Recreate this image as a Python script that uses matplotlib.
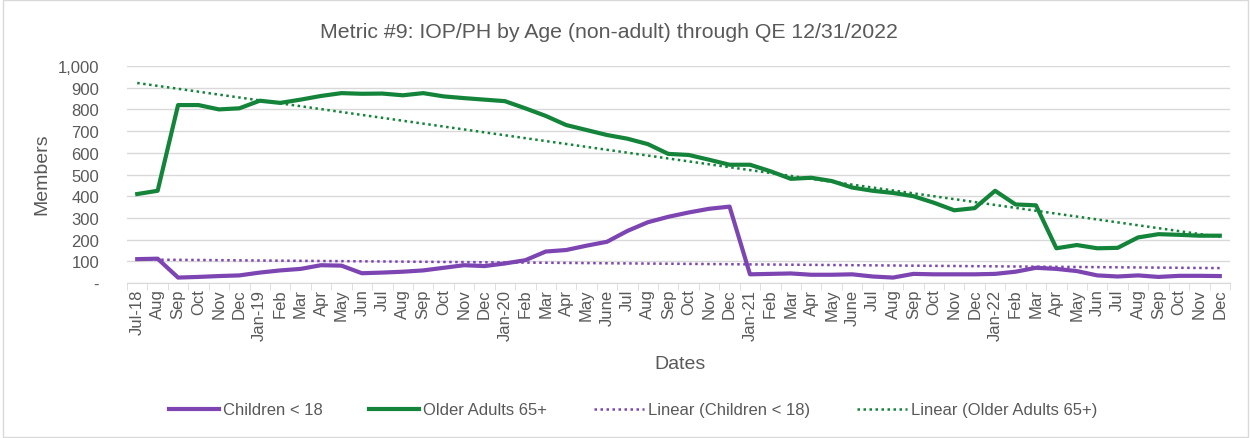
import numpy as np
import matplotlib
matplotlib.use("Agg")
import matplotlib.pyplot as plt
from matplotlib.ticker import FuncFormatter, FixedLocator

plt.rcParams['font.family'] = ['Liberation Sans', 'DejaVu Sans']

months = ["Jul-18", "Aug", "Sep", "Oct", "Nov", "Dec",
          "Jan-19", "Feb", "Mar", "Apr", "May", "Jun", "Jul", "Aug", "Sep", "Oct", "Nov", "Dec",
          "Jan-20", "Feb", "Mar", "Apr", "May", "June", "Jul", "Aug", "Sep", "Oct", "Nov", "Dec",
          "Jan-21", "Feb", "Mar", "Apr", "May", "June", "Jul", "Aug", "Sep", "Oct", "Nov", "Dec",
          "Jan-22", "Feb", "Mar", "Apr", "May", "Jun", "Jul", "Aug", "Sep", "Oct", "Nov", "Dec"]

children = [110, 112, 25, 28, 32, 35,
            48, 58, 65, 82, 80, 45, 48, 52, 58, 70, 82, 78,
            90, 105, 145, 152, 172, 190, 240, 280, 305, 325, 342, 352,
            40, 42, 44, 38, 38, 40, 30, 25, 42, 40, 40, 40,
            42, 52, 70, 65, 55, 35, 30, 35, 28, 33, 33, 32]

older = [410, 425, 820, 820, 800, 805,
         840, 830, 845, 862, 875, 872, 873, 865, 875, 860, 852, 845,
         838, 805, 770, 728, 705, 682, 665, 640, 595, 590, 568, 545,
         545, 515, 480, 485, 470, 440, 425, 415, 400, 370, 335, 345,
         425, 362, 358, 160, 175, 160, 162, 210, 225, 222, 218, 218]

purple = '#7D45B2'
green = '#14843A'
txt = '#595959'

W, H = 1251, 439
fig = plt.figure(figsize=(W / 100, H / 100), dpi=100)
ax = fig.add_axes([127 / W, 1 - 284 / H, (1230 - 127) / W, (284 - 67) / H])

x = np.arange(len(months))
l1, = ax.plot(x, children, color=purple, lw=3.0, solid_joinstyle='round', label='Children < 18', zorder=3)
l2, = ax.plot(x, older, color=green, lw=3.0, solid_joinstyle='round', label='Older Adults 65+', zorder=3)

pc = np.polyfit(x, children, 1)
po = np.polyfit(x, older, 1)
dot = (0, (1, 1.4))
l3, = ax.plot(x, np.polyval(pc, x), color=purple, lw=1.8, ls=dot, label='Linear (Children < 18)', zorder=2)
l4, = ax.plot(x, np.polyval(po, x), color=green, lw=1.8, ls=dot, label='Linear (Older Adults 65+)', zorder=2)

ax.set_xlim(-0.5, len(months) - 0.5)
ax.set_ylim(0, 1000)
ax.set_yticks(np.arange(0, 1001, 100))
ax.yaxis.set_major_formatter(FuncFormatter(lambda v, p: '-' if v == 0 else f'{int(v):,}'))
ax.grid(axis='y', color='#D9D9D9', lw=1)
ax.set_axisbelow(True)
for s in ['top', 'right', 'left']:
    ax.spines[s].set_visible(False)
ax.spines['bottom'].set_color('#D9D9D9')
ax.tick_params(axis='y', length=0, labelsize=12, labelcolor=txt, pad=20)

ax.set_xticks(x)
ax.set_xticklabels(months, rotation=90, fontsize=12, color=txt)
ax.tick_params(axis='x', length=0, pad=4)
ax.xaxis.set_minor_locator(FixedLocator(np.arange(-0.5, len(months), 1)))
ax.tick_params(axis='x', which='minor', length=5, color='#D9D9D9')

fig.text(42 / W, 1 - 174 / H, 'Members', rotation=90, ha='center', va='center', fontsize=14, color=txt)
fig.text(680 / W, 1 - 365 / H, 'Dates', ha='center', va='center', fontsize=14, color=txt)
fig.text(608.5 / W, 1 - 32 / H, 'Metric #9: IOP/PH by Age (non-adult) through QE 12/31/2022',
         ha='center', va='center', fontsize=15.3, color=txt)

fig.legend(handles=[l1, l2, l3, l4], loc='center', bbox_to_anchor=(633 / W, 1 - 411 / H),
           ncol=4, frameon=False, fontsize=12, labelcolor=txt, handlelength=3.0,
           columnspacing=2.8, handletextpad=0.25)

border = plt.Rectangle((0.002, 0.003), 0.996, 0.994, transform=fig.transFigure,
                       fill=False, edgecolor='#D9D9D9', lw=1)
fig.add_artist(border)

fig.savefig('out.png', dpi=100, facecolor='white')
